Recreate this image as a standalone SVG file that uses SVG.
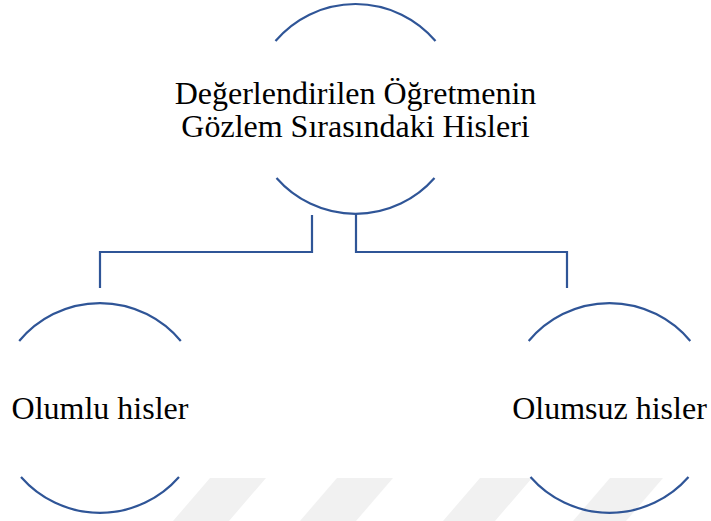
<svg xmlns="http://www.w3.org/2000/svg" width="711" height="521" viewBox="0 0 711 521">
<style>
.arc{fill:none;stroke:#2f5597;stroke-width:2.2}
.con{fill:none;stroke:#2f5597;stroke-width:2.2}
.t{font-family:"Liberation Serif","Times New Roman",serif;font-size:32px;fill:#000;text-anchor:middle}
.wm{fill:#f1f1f1}
</style>
<rect width="711" height="521" fill="#fff"/>
<g id="watermark">
<polygon class="wm" points="210,478 266,478 229,521 173,521"/>
<polygon class="wm" points="337,478 393,478 356,521 300,521"/>
<polygon class="wm" points="480,478 532,478 495,521 443,521"/>
<polygon class="wm" points="610,478 663,478 626,521 573,521"/>
</g>
<g id="connectors">
<polyline class="con" points="312,215 312,252 100,252 100,288"/>
<polyline class="con" points="356,214 356,252 567,252 567,288"/>
</g>
<g id="top">
<path class="arc" d="M275.5,41 A105,105 0 0 1 435.5,41"/>
<path class="arc" d="M276.5,178 A105,105 0 0 0 434.5,178"/>
<text class="t" x="355.5" y="104">Değerlendirilen Öğretmenin</text>
<text class="t" x="355.5" y="137">Gözlem Sırasındaki Hisleri</text>
</g>
<g id="left">
<path class="arc" d="M19.2,341 A105,105 0 0 1 180.8,341"/>
<path class="arc" d="M21,477 A105,105 0 0 0 179,477"/>
<text class="t" x="100" y="419">Olumlu hisler</text>
</g>
<g id="right">
<path class="arc" d="M528.7,341 A105,105 0 0 1 690.3,341"/>
<path class="arc" d="M530.5,477 A105,105 0 0 0 688.5,477"/>
<text class="t" x="609.5" y="419">Olumsuz hisler</text>
</g>
</svg>
